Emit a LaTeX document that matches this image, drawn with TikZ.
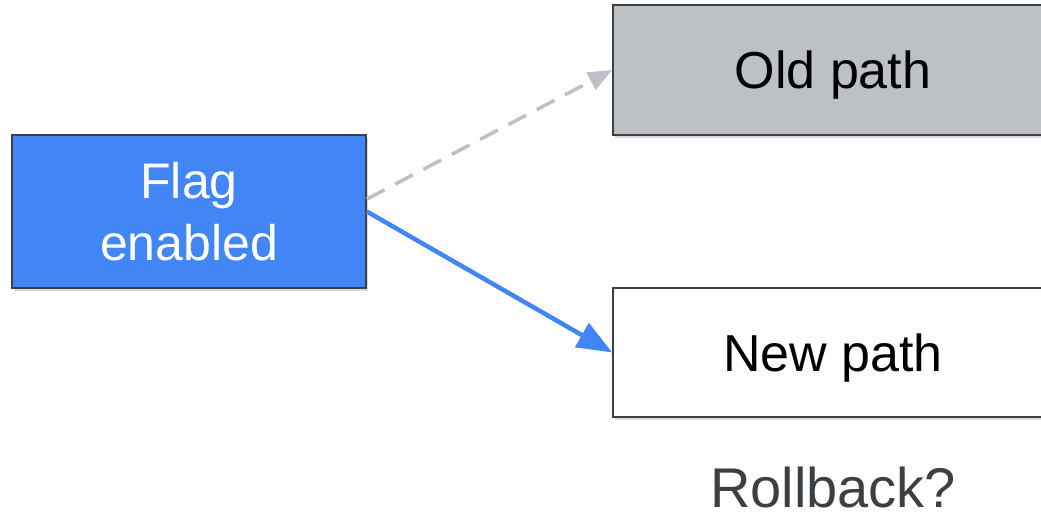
\documentclass[tikz,border=0pt]{standalone}
\usepackage{fontspec}
\setmainfont{Liberation Sans}
\usetikzlibrary{arrows.meta,shadows}
\definecolor{flagblue}{HTML}{4285F4}
\definecolor{oldgray}{HTML}{BDC1C6}
\definecolor{edge}{HTML}{3C4043}

\begin{document}
\begin{tikzpicture}[x=1pt,y=1pt,>=Triangle]
\tikzset{box/.style={draw=edge,line width=1.6pt,align=center,inner sep=0pt,
  drop shadow={shadow xshift=1.5pt,shadow yshift=-3pt,opacity=0.3}},
  label/.style={font=\fontsize{52}{62}\selectfont,text depth=0pt}}
\useasboundingbox (0,0) rectangle (1041,517);
\node[box,fill=flagblue,text=white,minimum width=354,minimum height=153,
  font=\fontsize{50}{62}\selectfont] (f) at (189,305.5) {Flag\\enabled};
\node[box,label,fill=oldgray,minimum width=440,minimum height=130] (o) at (833,447) {Old path};
\node[box,label,fill=white,minimum width=440,minimum height=129] (n) at (833,164.5) {New path};
\node[anchor=base,inner sep=0pt,text=edge,font=\fontsize{56}{62}\selectfont] (r) at (833,10) {Rollback?};
\draw[->,oldgray,line width=3.5pt,dash pattern=on 20pt off 12pt,
  -{Triangle[length=24pt,width=19pt]}] (f.4)--(o.west);
\draw[->,flagblue,line width=4.5pt,-{Triangle[length=35pt,width=27pt]}] (f.east)--(n.west);
\end{tikzpicture}
\end{document}
